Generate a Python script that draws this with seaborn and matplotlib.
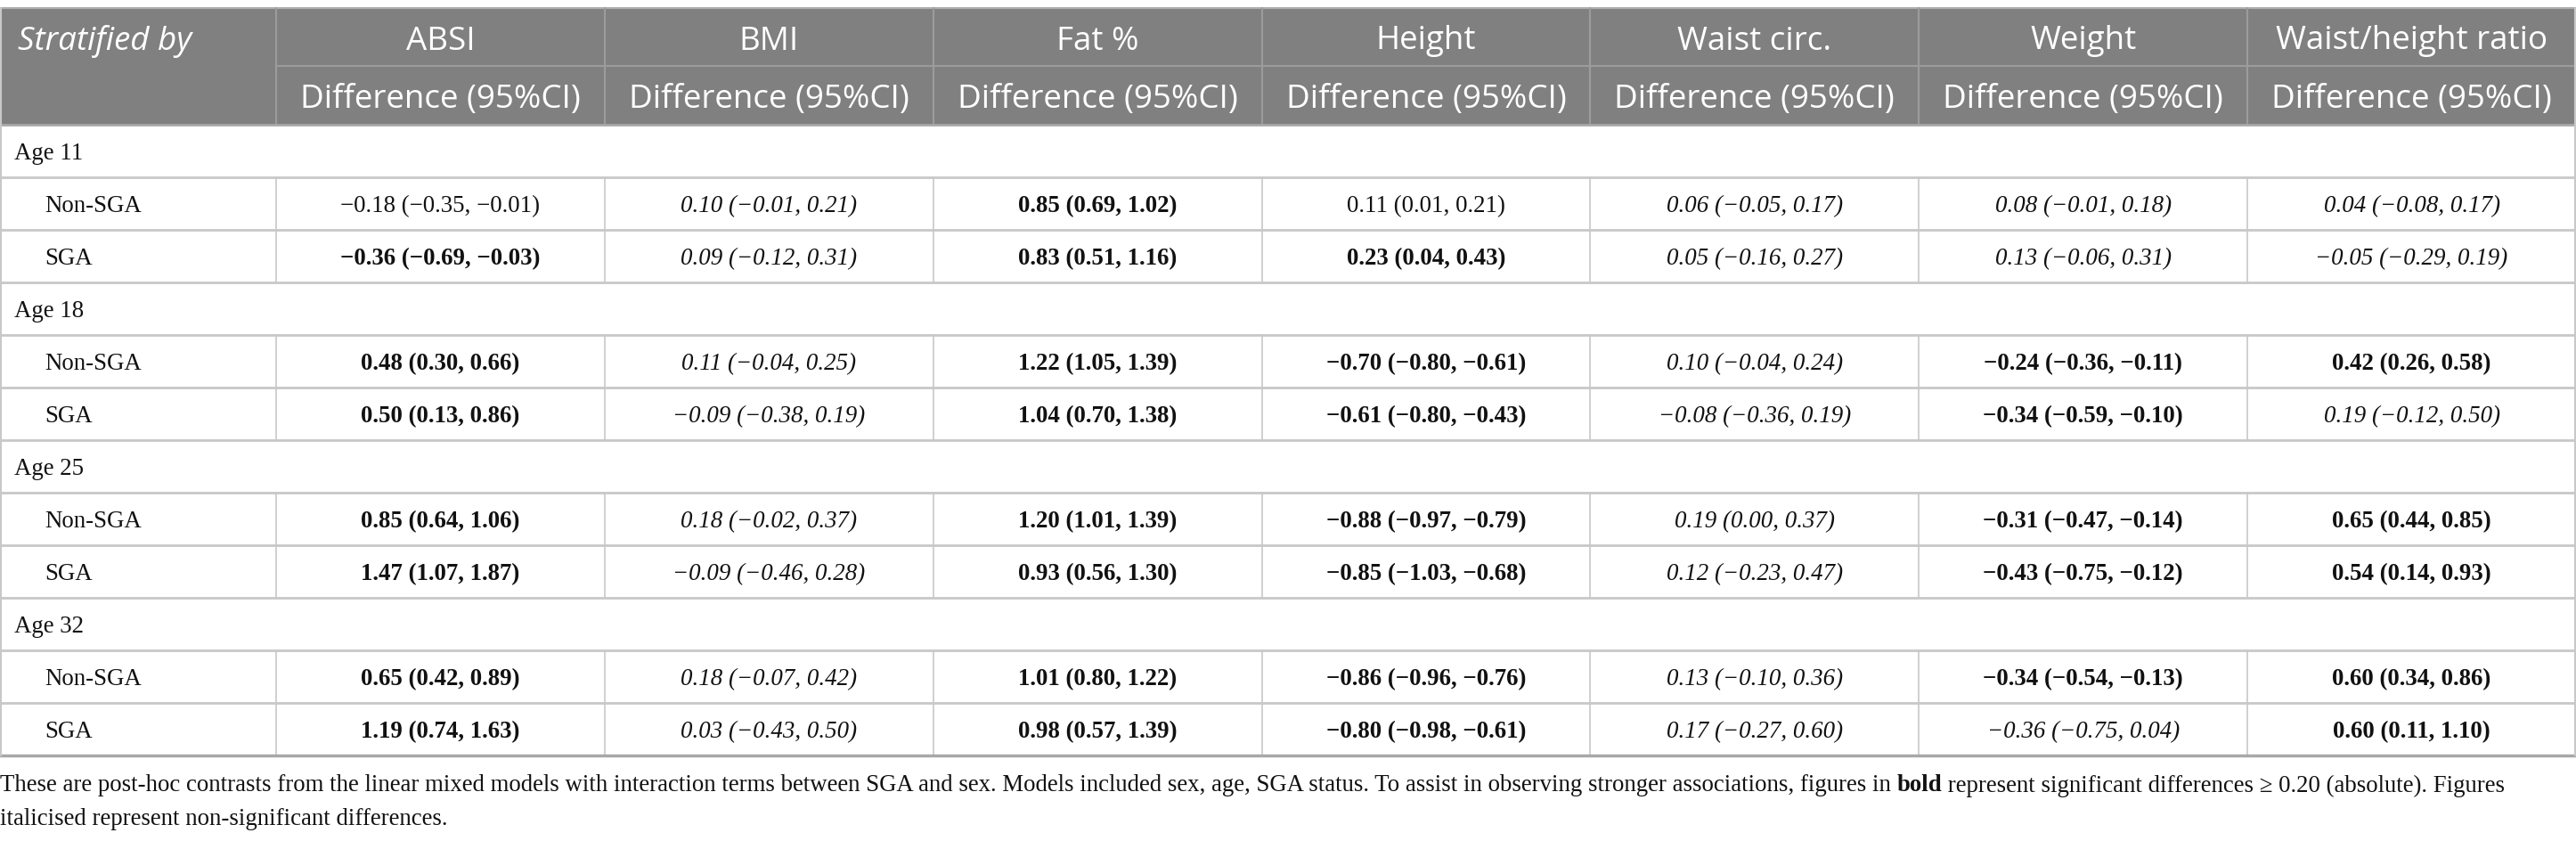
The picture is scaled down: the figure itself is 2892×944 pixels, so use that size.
import matplotlib
matplotlib.use("Agg")
import matplotlib.pyplot as plt
import seaborn as sns

sns.set_theme(style="white")
plt.rcParams['font.family'] = ['Liberation Serif', 'DejaVu Serif']

# ---------------- data ----------------
outcomes = ["ABSI", "BMI", "Fat %", "Height", "Waist circ.", "Weight", "Waist/height ratio"]
sub_header = "Difference (95%CI)"
first_header = "Stratified by"
ages = ["Age 11", "Age 18", "Age 25", "Age 32"]
groups = ["Non-SGA", "SGA"]

age11_nonsga = ["−0.18 (−0.35, −0.01)", "0.10 (−0.01, 0.21)", "0.85 (0.69, 1.02)", "0.11 (0.01, 0.21)",
                "0.06 (−0.05, 0.17)", "0.08 (−0.01, 0.18)", "0.04 (−0.08, 0.17)"]
age11_sga = ["−0.36 (−0.69, −0.03)", "0.09 (−0.12, 0.31)", "0.83 (0.51, 1.16)", "0.23 (0.04, 0.43)",
             "0.05 (−0.16, 0.27)", "0.13 (−0.06, 0.31)", "−0.05 (−0.29, 0.19)"]
age18_nonsga = ["0.48 (0.30, 0.66)", "0.11 (−0.04, 0.25)", "1.22 (1.05, 1.39)", "−0.70 (−0.80, −0.61)",
                "0.10 (−0.04, 0.24)", "−0.24 (−0.36, −0.11)", "0.42 (0.26, 0.58)"]
age18_sga = ["0.50 (0.13, 0.86)", "−0.09 (−0.38, 0.19)", "1.04 (0.70, 1.38)", "−0.61 (−0.80, −0.43)",
             "−0.08 (−0.36, 0.19)", "−0.34 (−0.59, −0.10)", "0.19 (−0.12, 0.50)"]
age25_nonsga = ["0.85 (0.64, 1.06)", "0.18 (−0.02, 0.37)", "1.20 (1.01, 1.39)", "−0.88 (−0.97, −0.79)",
                "0.19 (0.00, 0.37)", "−0.31 (−0.47, −0.14)", "0.65 (0.44, 0.85)"]
age25_sga = ["1.47 (1.07, 1.87)", "−0.09 (−0.46, 0.28)", "0.93 (0.56, 1.30)", "−0.85 (−1.03, −0.68)",
             "0.12 (−0.23, 0.47)", "−0.43 (−0.75, −0.12)", "0.54 (0.14, 0.93)"]
age32_nonsga = ["0.65 (0.42, 0.89)", "0.18 (−0.07, 0.42)", "1.01 (0.80, 1.22)", "−0.86 (−0.96, −0.76)",
                "0.13 (−0.10, 0.36)", "−0.34 (−0.54, −0.13)", "0.60 (0.34, 0.86)"]
age32_sga = ["1.19 (0.74, 1.63)", "0.03 (−0.43, 0.50)", "0.98 (0.57, 1.39)", "−0.80 (−0.98, −0.61)",
             "0.17 (−0.27, 0.60)", "−0.36 (−0.75, 0.04)", "0.60 (0.11, 1.10)"]

# significance category per cell: "sig" (bold), "ns" (italic), "small" (plain)
age11_nonsga_sig = ["small", "ns", "sig", "small", "ns", "ns", "ns"]
age11_sga_sig = ["sig", "ns", "sig", "sig", "ns", "ns", "ns"]
age18_nonsga_sig = ["sig", "ns", "sig", "sig", "ns", "sig", "sig"]
age18_sga_sig = ["sig", "ns", "sig", "sig", "ns", "sig", "ns"]
age25_nonsga_sig = ["sig", "ns", "sig", "sig", "ns", "sig", "sig"]
age25_sga_sig = ["sig", "ns", "sig", "sig", "ns", "sig", "sig"]
age32_nonsga_sig = ["sig", "ns", "sig", "sig", "ns", "sig", "sig"]
age32_sga_sig = ["sig", "ns", "sig", "sig", "ns", "ns", "sig"]

footnote_a = ("These are post-hoc contrasts from the linear mixed models with interaction terms between SGA and sex. "
              "Models included sex, age, SGA status. To assist in observing stronger associations, figures in ")
footnote_b = "bold"
footnote_c = " represent significant differences ≥ 0.20 (absolute). Figures"
footnote_d = "italicised represent non-significant differences."

values = [[age11_nonsga, age11_sga], [age18_nonsga, age18_sga],
          [age25_nonsga, age25_sga], [age32_nonsga, age32_sga]]
sigs = [[age11_nonsga_sig, age11_sga_sig], [age18_nonsga_sig, age18_sga_sig],
        [age25_nonsga_sig, age25_sga_sig], [age32_nonsga_sig, age32_sga_sig]]

# ---------------- layout ----------------
W, H = 2892, 944
fig = plt.figure(figsize=(W / 100, H / 100), dpi=100)
ax = fig.add_axes([0, 0, 1, 1])
ax.set_xlim(0, W)
ax.set_ylim(H, 0)
ax.axis("off")

HEAD_BG = "#808080"
HEAD_LINE = "#9c9c9c"
GRID = "#c8c8c8"
HEAD_FONT = ["Open Sans", "DejaVu Sans"]
BODY_FONT = ["Liberation Serif", "DejaVu Serif"]

top = 9
h1 = 74
h2 = 140
bottom = 848
nrows = 12
rh = (bottom - h2) / nrows
c0 = 310
cw = (W - c0) / len(outcomes)
col_edges = [c0 + i * cw for i in range(len(outcomes) + 1)]

# header background
ax.add_patch(plt.Rectangle((0, top), W, h2 - top, color=HEAD_BG, lw=0, zorder=0))
ax.plot([0, W], [top, top], color="#b0b0b0", lw=1.5)
ax.plot([c0, W], [h1, h1], color=HEAD_LINE, lw=1.5)
for xe in col_edges[:-1]:
    ax.plot([xe, xe], [top, h2], color=HEAD_LINE, lw=1.5)

HS = 26.5
ax.text(20, (top + h1) / 2 + 5, first_header, ha="left", va="center", color="white",
        fontsize=HS, style="italic", family=HEAD_FONT)
for i, name in enumerate(outcomes):
    cx = (col_edges[i] + col_edges[i + 1]) / 2
    ax.text(cx, (top + h1) / 2 + 5, name, ha="center", va="center", color="white",
            fontsize=HS, family=HEAD_FONT)
    ax.text(cx, (h1 + h2) / 2 + 5, sub_header, ha="center", va="center", color="white",
            fontsize=HS, family=HEAD_FONT)

ax.plot([0, W], [h2, h2], color="#a8a8a8", lw=2)

BS = 19.4
style_map = {"sig": ("bold", "normal"), "ns": ("normal", "italic"), "small": ("normal", "normal")}
r = 0
for a, age in enumerate(ages):
    y_top = h2 + r * rh
    ax.text(16, y_top + rh / 2 + 3, age, ha="left", va="center", fontsize=BS, family=BODY_FONT, color="#111111")
    ax.plot([0, W], [y_top + rh, y_top + rh], color=GRID, lw=2)
    r += 1
    for g, grp in enumerate(groups):
        y_top = h2 + r * rh
        yc = y_top + rh / 2 + 3
        ax.text(50, yc, grp, ha="left", va="center", fontsize=BS, family=BODY_FONT, color="#111111")
        for i in range(len(outcomes)):
            cx = (col_edges[i] + col_edges[i + 1]) / 2
            wgt, sty = style_map[sigs[a][g][i]]
            ax.text(cx, yc, values[a][g][i], ha="center", va="center", fontsize=BS,
                    family=BODY_FONT, fontweight=wgt, style=sty, color="#111111")
        for xe in col_edges[:-1]:
            ax.plot([xe, xe], [y_top, y_top + rh], color=GRID, lw=1.2)
        lw = 2.5 if r == nrows - 1 else 2
        col = "#a8a8a8" if r == nrows - 1 else GRID
        ax.plot([0, W], [y_top + rh, y_top + rh], color=col, lw=lw)
        r += 1

# outer side borders of body
ax.plot([0.8, 0.8], [top, bottom], color=GRID, lw=1.5)
ax.plot([W - 0.8, W - 0.8], [top, bottom], color=GRID, lw=1.5)

# footnote with bold word
FS = 19.3
fig.canvas.draw()
renderer = fig.canvas.get_renderer()
inv = ax.transData.inverted()
xcur = 0
y1 = 882
for txt, wgt in [(footnote_a, "normal"), (footnote_b, "bold"), (footnote_c, "normal")]:
    t = ax.text(xcur, y1, txt, ha="left", va="center", fontsize=FS, family=BODY_FONT,
                fontweight=wgt, color="#111111")
    bb = t.get_window_extent(renderer=renderer)
    xcur = inv.transform((bb.x1, bb.y0))[0]
ax.text(0, 920, footnote_d, ha="left", va="center", fontsize=FS, family=BODY_FONT, color="#111111")

fig.savefig("out.png", dpi=100)
